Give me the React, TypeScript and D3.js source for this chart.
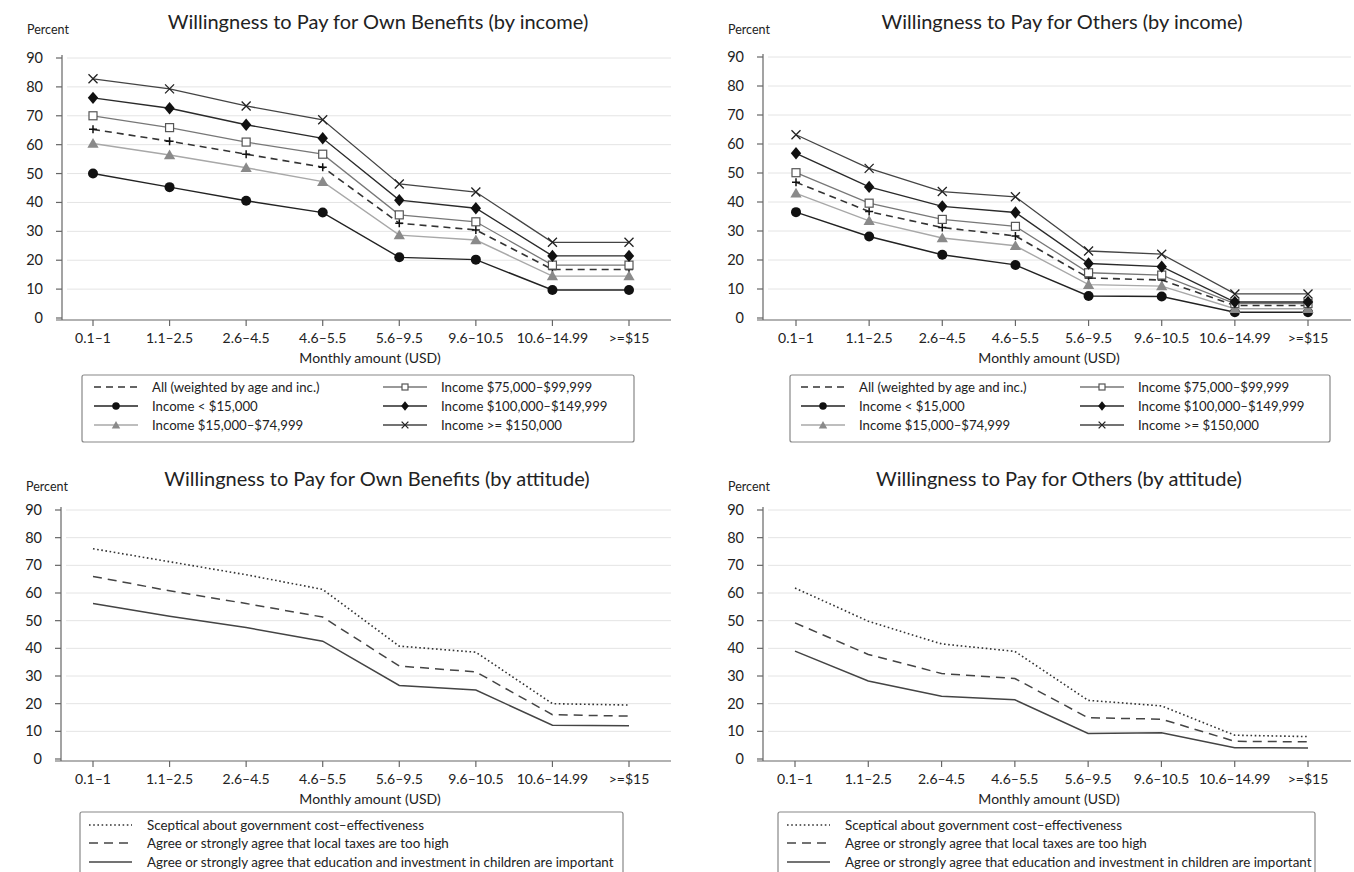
import * as d3 from "d3";

const categories = ["0.1–1", "1.1–2.5", "2.6–4.5", "4.6–5.5", "5.6–9.5", "9.6–10.5", "10.6–14.99", ">=$15"];
const yTicks = [0, 10, 20, 30, 40, 50, 60, 70, 80, 90];

// own benefits, by income
const ownAll = [65.3, 61.2, 56.7, 52.2, 32.8, 30.5, 16.8, 16.8];
const ownLow = [50, 45.3, 40.6, 36.5, 21, 20.2, 9.7, 9.7];
const ownMid = [60.4, 56.4, 52, 47.2, 28.7, 27, 14.5, 14.5];
const ownUpperMid = [70, 65.9, 60.9, 56.7, 35.7, 33.3, 18.3, 18.3];
const ownHigh = [76.2, 72.6, 66.9, 62.2, 40.8, 38, 21.5, 21.5];
const ownTop = [82.8, 79.3, 73.4, 68.6, 46.4, 43.6, 26.2, 26.2];

// others, by income
const othAll = [46.8, 36.7, 31.2, 28.3, 13.8, 13.1, 4.3, 4.3];
const othLow = [36.5, 28.1, 21.8, 18.3, 7.6, 7.4, 2, 2];
const othMid = [43, 33.5, 27.6, 24.9, 11.5, 11, 3.2, 3.2];
const othUpperMid = [50.1, 39.6, 34, 31.6, 15.6, 14.8, 5, 5];
const othHigh = [56.8, 45.2, 38.5, 36.4, 18.8, 17.7, 5.5, 5.5];
const othTop = [63.2, 51.6, 43.6, 41.8, 23.1, 22, 8.3, 8.3];

// by attitude
const ownSceptical = [76, 71.3, 66.6, 61.3, 40.8, 38.6, 20, 19.5];
const ownTaxes = [66, 60.8, 56.2, 51.3, 33.6, 31.5, 16, 15.5];
const ownEducation = [56.2, 51.6, 47.5, 42.6, 26.6, 24.9, 12.2, 12];
const othSceptical = [61.8, 49.8, 41.6, 38.9, 21.2, 19.2, 8.6, 8.1];
const othTaxes = [49.2, 37.8, 30.9, 29.1, 14.9, 14.4, 6.4, 6.2];
const othEducation = [39, 28.2, 22.7, 21.4, 9.2, 9.5, 4.1, 4];

const incomeLabels = [
  "All (weighted by age and inc.)",
  "Income < $15,000",
  "Income $15,000–$74,999",
  "Income $75,000–$99,999",
  "Income $100,000–$149,999",
  "Income >= $150,000",
];
const attitudeLabels = [
  "Sceptical about government cost–effectiveness",
  "Agree or strongly agree that local taxes are too high",
  "Agree or strongly agree that education and investment in children are important",
];

const FONT = "Lato, 'Open Sans', sans-serif";

type Marker = "none" | "plus" | "circle" | "triangle" | "square" | "diamond" | "x";
interface Style { stroke: string; width: number; dash?: string; marker: Marker; }

const incomeStyles: Style[] = [
  { stroke: "#333", width: 1.6, dash: "7,5", marker: "plus" },
  { stroke: "#222", width: 1.4, marker: "circle" },
  { stroke: "#a8a8a8", width: 1.4, marker: "triangle" },
  { stroke: "#777", width: 1.3, marker: "square" },
  { stroke: "#2a2a2a", width: 1.4, marker: "diamond" },
  { stroke: "#444", width: 1.3, marker: "x" },
];
const attitudeStyles: Style[] = [
  { stroke: "#333", width: 1.6, dash: "1.6,2.6", marker: "none" },
  { stroke: "#444", width: 1.5, dash: "9,6", marker: "none" },
  { stroke: "#444", width: 1.5, marker: "none" },
];

function MarkerShape({ kind, x, y, k = 1 }: { kind: Marker; x: number; y: number; k?: number }) {
  if (kind === "none") return null;
  if (kind === "circle") return <circle cx={x} cy={y} r={5 * k} fill="#111" />;
  if (kind === "diamond") {
    const w = 5.2 * k, h = 6.2 * k;
    return <path d={`M${x},${y - h}L${x + w},${y}L${x},${y + h}L${x - w},${y}Z`} fill="#111" />;
  }
  if (kind === "triangle") {
    const p = d3.symbol(d3.symbolTriangle, 55 * k * k)();
    return <path d={p || ""} transform={`translate(${x},${y + 1})`} fill="#8a8a8a" />;
  }
  if (kind === "square") {
    const s = 4 * k;
    return <rect x={x - s} y={y - s} width={2 * s} height={2 * s} fill="#fff" stroke="#555" strokeWidth={1.2} />;
  }
  if (kind === "x") {
    const s = 4.5 * k;
    return <path d={`M${x - s},${y - s}L${x + s},${y + s}M${x - s},${y + s}L${x + s},${y - s}`} stroke="#222" strokeWidth={1.3} />;
  }
  return <path d={`M${x - 4},${y}L${x + 4},${y}M${x},${y - 4}L${x},${y + 4}`} stroke="#111" strokeWidth={1.5} />;
}

interface PanelProps {
  title: string;
  titleX: number;
  titleGap: number;
  axisTitleX: number;
  top: number; // y of value 90
  zero: number; // y of value 0
  axisX: number;
  xFirst: number;
  xLast: number;
  right: number;
  series: number[][];
  styles: Style[];
}

function Panel({ title, titleX, titleGap, axisTitleX, top, zero, axisX, xFirst, xLast, right, series, styles }: PanelProps) {
  const x = d3.scalePoint<string>().domain(categories).range([xFirst, xLast]);
  const y = d3.scaleLinear().domain([0, 90]).range([zero, top]);
  const line = d3.line<number>().x((_, i) => x(categories[i]) as number).y((d) => y(d));
  const baseY = zero + 2;

  return (
    <g fontFamily={FONT}>
      <text x={axisX - 35} y={top - titleGap + 5} fontSize={12.5} fill="#222">Percent</text>
      <text x={titleX} y={top - titleGap} fontSize={20} textAnchor="middle" fill="#222">{title}</text>
      {yTicks.slice(1).map((t) => (
        <line key={"g" + t} x1={axisX + 5} x2={right} y1={y(t)} y2={y(t)} stroke="#e4e4e4" strokeWidth={1} />
      ))}
      <line x1={axisX} x2={axisX} y1={top - 3} y2={baseY} stroke="#666" strokeWidth={1.2} />
      <line x1={axisX - 6} x2={right} y1={baseY} y2={baseY} stroke="#666" strokeWidth={1.2} />
      {yTicks.map((t) => (
        <g key={"t" + t}>
          <line x1={axisX - 6} x2={axisX} y1={y(t)} y2={y(t)} stroke="#666" strokeWidth={1.2} />
          <text x={axisX - 19} y={y(t) + 5} fontSize={14.5} textAnchor="end" fill="#222">{t}</text>
        </g>
      ))}
      {categories.map((c) => (
        <g key={c}>
          <line x1={x(c)} x2={x(c)} y1={baseY} y2={baseY + 6} stroke="#666" strokeWidth={1.2} />
          <text x={x(c)} y={baseY + 23} fontSize={14} textAnchor="middle" fill="#222">{c}</text>
        </g>
      ))}
      <text x={axisTitleX} y={baseY + 43} fontSize={14} textAnchor="middle" fill="#222">Monthly amount (USD)</text>
      {series.map((s, i) => (
        <g key={"s" + i}>
          <path d={line(s) || ""} fill="none" stroke={styles[i].stroke} strokeWidth={styles[i].width} strokeDasharray={styles[i].dash} />
          {s.map((v, j) => (
            <MarkerShape key={j} kind={styles[i].marker} x={x(categories[j]) as number} y={y(v)} />
          ))}
        </g>
      ))}
    </g>
  );
}

function IncomeLegend({ left, right, top, c1, c2 }: { left: number; right: number; top: number; c1: number; c2: number }) {
  const rows = [top + 12, top + 31, top + 50];
  return (
    <g fontFamily={FONT}>
      <rect x={left} y={top} width={right - left} height={67} rx={2} fill="#fff" stroke="#888" strokeWidth={1.2} />
      {incomeLabels.map((lab, i) => {
        const cx = i < 3 ? c1 : c2;
        const ry = rows[i % 3];
        const st = incomeStyles[i];
        return (
          <g key={lab}>
            <line x1={cx} x2={cx + 44} y1={ry} y2={ry} stroke={st.stroke} strokeWidth={st.width} strokeDasharray={st.dash} />
            {st.marker !== "plus" && <MarkerShape kind={st.marker} x={cx + 22} y={ry} k={0.75} />}
            <text x={cx + 58} y={ry + 4.5} fontSize={13.2} fill="#222">{lab}</text>
          </g>
        );
      })}
    </g>
  );
}

function AttitudeLegend({ left, right, top, c1 }: { left: number; right: number; top: number; c1: number }) {
  const rows = [top + 13, top + 31, top + 50];
  return (
    <g fontFamily={FONT}>
      <rect x={left} y={top} width={right - left} height={70} rx={2} fill="#fff" stroke="#888" strokeWidth={1.2} />
      {attitudeLabels.map((lab, i) => {
        const st = attitudeStyles[i];
        return (
          <g key={lab}>
            <line x1={c1} x2={c1 + 43} y1={rows[i]} y2={rows[i]} stroke={st.stroke} strokeWidth={st.width} strokeDasharray={st.dash} />
            <text x={c1 + 58} y={rows[i] + 4.5} fontSize={13.4} fill="#222">{lab}</text>
          </g>
        );
      })}
    </g>
  );
}

export default function App() {
  return (
    <div style={{ position: "absolute", left: 0, top: 0 }}>
      <svg width={1354} height={872} style={{ display: "block", background: "#fff" }}>
        <Panel title="Willingness to Pay for Own Benefits (by income)" titleX={378} titleGap={29} axisTitleX={370} top={58} zero={318}
          axisX={62} xFirst={93} xLast={629} right={671}
          series={[ownAll, ownLow, ownMid, ownUpperMid, ownHigh, ownTop]} styles={incomeStyles} />
        <IncomeLegend left={82} right={634} top={375} c1={94} c2={383} />

        <Panel title="Willingness to Pay for Others (by income)" titleX={1062} titleGap={28} axisTitleX={1049} top={57} zero={318}
          axisX={763} xFirst={796} xLast={1308} right={1351}
          series={[othAll, othLow, othMid, othUpperMid, othHigh, othTop]} styles={incomeStyles} />
        <IncomeLegend left={790} right={1330} top={375} c1={801} c2={1080} />

        <Panel title="Willingness to Pay for Own Benefits (by attitude)" titleX={377} titleGap={24} axisTitleX={370} top={510} zero={759}
          axisX={61} xFirst={93} xLast={629} right={671}
          series={[ownSceptical, ownTaxes, ownEducation]} styles={attitudeStyles} />
        <AttitudeLegend left={80} right={623} top={812} c1={89} />

        <Panel title="Willingness to Pay for Others (by attitude)" titleX={1059} titleGap={24} axisTitleX={1049} top={510} zero={759}
          axisX={763} xFirst={795} xLast={1308} right={1351}
          series={[othSceptical, othTaxes, othEducation]} styles={attitudeStyles} />
        <AttitudeLegend left={778} right={1315} top={812} c1={787} />
      </svg>
    </div>
  );
}
